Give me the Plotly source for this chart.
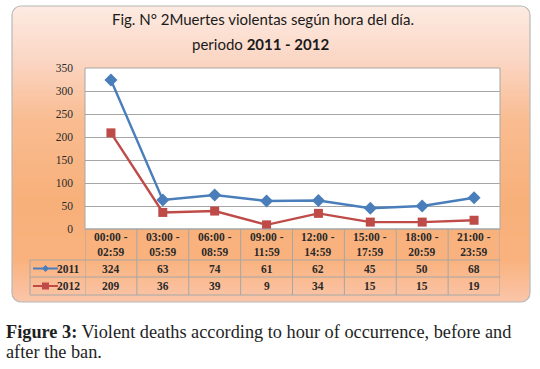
import plotly.graph_objects as go

# ---- data ----
periods = ["00:00 -<br>02:59", "03:00 -<br>05:59", "06:00 -<br>08:59", "09:00 -<br>11:59",
           "12:00 -<br>14:59", "15:00 -<br>17:59", "18:00 -<br>20:59", "21:00 -<br>23:59"]
deaths_2011 = [324, 63, 74, 61, 62, 45, 50, 68]
deaths_2012 = [209, 36, 39, 9, 34, 15, 15, 19]
series_names = ["2011", "2012"]
y_ticks = [0, 50, 100, 150, 200, 250, 300, 350]

W, H = 540, 369
def X(px): return px / W
def Y(py): return 1 - py / H

BLUE = "#4a7ebb"
RED = "#be4b48"
GRID = "#a6a6a6"
SERIF = "Liberation Serif"

fig = go.Figure()
fig.add_trace(go.Scatter(x=periods, y=deaths_2011, name=series_names[0], mode="lines+markers",
                         line=dict(color=BLUE, width=2.4),
                         marker=dict(symbol="diamond", size=10, color=BLUE)))
fig.add_trace(go.Scatter(x=periods, y=deaths_2012, name=series_names[1], mode="lines+markers",
                         line=dict(color=RED, width=2.4),
                         marker=dict(symbol="square", size=9, color=RED)))

shapes = []
# gradient background of the frame (vertical gradient)
stops = [(6, (253, 235, 226)), (60, (251, 214, 196)), (120, (249, 188, 145)),
         (200, (248, 176, 122)), (260, (249, 178, 126)), (302, (250, 198, 170))]
def col(py):
    for (a, ca), (b, cb) in zip(stops[:-1], stops[1:]):
        if a <= py <= b:
            t = (py - a) / (b - a)
            c = [round(ca[i] + (cb[i] - ca[i]) * t) for i in range(3)]
            return "rgb(%d,%d,%d)" % tuple(c)
    return "rgb(%d,%d,%d)" % stops[-1][1]
fx0, fy0, fx1, fy1, r = 12, 6, 530, 302, 9
step = 3
py = fy0
while py < fy1:
    p2 = min(py + step + 0.5, fy1)
    shapes.append(dict(type="rect", xref="paper", yref="paper", x0=X(fx0), x1=X(fx1),
                       y0=Y(p2), y1=Y(py), fillcolor=col(py + step / 2), line_width=0, layer="below"))
    py += step
# white corner patches
k = 0.448
def P(px, py): return "%f,%f" % (X(px), Y(py))
def corner(cx, cy, sx, sy):
    return ("M " + P(cx, cy) + " L " + P(cx + sx * r, cy) +
            " C " + P(cx + sx * r * k, cy) + " " + P(cx, cy + sy * r * k) + " " + P(cx, cy + sy * r) + " Z")
for cx, cy, sx, sy in [(fx0, fy0, 1, 1), (fx1, fy0, -1, 1), (fx0, fy1, 1, -1), (fx1, fy1, -1, -1)]:
    shapes.append(dict(type="path", xref="paper", yref="paper", path=corner(cx, cy, sx, sy),
                       fillcolor="white", line_width=0, layer="below"))
# rounded frame border
q = r * k
frame = ("M " + P(fx0 + r, fy0) + " L " + P(fx1 - r, fy0) +
         " C " + P(fx1 - q, fy0) + " " + P(fx1, fy0 + q) + " " + P(fx1, fy0 + r) +
         " L " + P(fx1, fy1 - r) +
         " C " + P(fx1, fy1 - q) + " " + P(fx1 - q, fy1) + " " + P(fx1 - r, fy1) +
         " L " + P(fx0 + r, fy1) +
         " C " + P(fx0 + q, fy1) + " " + P(fx0, fy1 - q) + " " + P(fx0, fy1 - r) +
         " L " + P(fx0, fy0 + r) +
         " C " + P(fx0, fy0 + q) + " " + P(fx0 + q, fy0) + " " + P(fx0 + r, fy0) + " Z")
shapes.append(dict(type="path", xref="paper", yref="paper", path=frame,
                   line=dict(color="#b8b8b8", width=1.2), fillcolor="rgba(0,0,0,0)", layer="below"))

# plot area
px0, px1, py0, py1 = 85, 500, 68, 229
shapes.append(dict(type="rect", xref="paper", yref="paper", x0=X(px0), x1=X(px1), y0=Y(py1), y1=Y(py0),
                   fillcolor="white", line=dict(color=GRID, width=1), layer="below"))

# data table grid
row_lines = [229, 260, 277, 295]
for i, ry in enumerate(row_lines):
    shapes.append(dict(type="line", xref="paper", yref="paper",
                       x0=X(px0 if i == 0 else 30), x1=X(px1), y0=Y(ry), y1=Y(ry),
                       line=dict(color=GRID, width=1), layer="above"))
shapes.append(dict(type="line", xref="paper", yref="paper", x0=X(30), x1=X(30), y0=Y(260), y1=Y(295),
                   line=dict(color=GRID, width=1), layer="above"))
for j in range(len(periods) + 1):
    shapes.append(dict(type="line", xref="x", yref="paper", x0=j - 0.5, x1=j - 0.5, y0=Y(229), y1=Y(295),
                       line=dict(color=GRID, width=1), layer="above"))

# legend keys in table
for ry, c, sym in [(268.5, BLUE, "diamond"), (286, RED, "square")]:
    shapes.append(dict(type="line", xref="paper", yref="paper", x0=X(33), x1=X(58), y0=Y(ry), y1=Y(ry),
                       line=dict(color=c, width=2), layer="above"))
    d = 3.5
    if sym == "diamond":
        path = "M " + P(45.5 - d, ry) + " L " + P(45.5, ry - d) + " L " + P(45.5 + d, ry) + " L " + P(45.5, ry + d) + " Z"
    else:
        path = "M " + P(45.5 - d, ry - d) + " L " + P(45.5 + d, ry - d) + " L " + P(45.5 + d, ry + d) + " L " + P(45.5 - d, ry + d) + " Z"
    shapes.append(dict(type="path", xref="paper", yref="paper", path=path, fillcolor=c, line_width=0, layer="above"))

annotations = []
tfont = dict(family=SERIF, size=11.5, color="#2a2a2a")
for j, lab in enumerate(periods):
    annotations.append(dict(xref="x", yref="paper", x=j, y=Y(244.5), text="<b>%s</b>" % lab.replace("<br>", "</b><br><b>"),
                            showarrow=False, font=tfont, xanchor="center", yanchor="middle"))
    annotations.append(dict(xref="x", yref="paper", x=j, y=Y(268.5), text="<b>%d</b>" % deaths_2011[j],
                            showarrow=False, font=tfont, xanchor="center", yanchor="middle"))
    annotations.append(dict(xref="x", yref="paper", x=j, y=Y(286), text="<b>%d</b>" % deaths_2012[j],
                            showarrow=False, font=tfont, xanchor="center", yanchor="middle"))
for name, ry in zip(series_names, [268.5, 286]):
    annotations.append(dict(xref="paper", yref="paper", x=X(82), y=Y(ry), text="<b>%s</b>" % name,
                            showarrow=False, font=tfont, xanchor="right", yanchor="middle"))

# title
title_font = dict(family="Lato", size=15, color="#1a1a1a")
annotations.append(dict(xref="paper", yref="paper", x=X(263), y=Y(19),
                        text="Fig. N° 2Muertes violentas según hora del día.", showarrow=False,
                        font=title_font, xanchor="center", yanchor="middle"))
annotations.append(dict(xref="paper", yref="paper", x=X(260), y=Y(44),
                        text="periodo <b>2011 - 2012</b>", showarrow=False,
                        font=title_font, xanchor="center", yanchor="middle"))
# caption
cap_font = dict(family=SERIF, size=18.3, color="#1e1e1e")
annotations.append(dict(xref="paper", yref="paper", x=X(4), y=Y(332),
                        text="<b>Figure 3:</b> Violent deaths according to hour of occurrence, before and",
                        showarrow=False, font=cap_font, xanchor="left", yanchor="middle"))
annotations.append(dict(xref="paper", yref="paper", x=X(4), y=Y(352),
                        text="after the ban.", showarrow=False, font=cap_font, xanchor="left", yanchor="middle"))

fig.update_layout(
    template="none",
    width=W, height=H, autosize=False,
    margin=dict(l=0, r=0, t=0, b=0, pad=0),
    paper_bgcolor="white", plot_bgcolor="rgba(0,0,0,0)",
    showlegend=False,
    shapes=shapes, annotations=annotations,
    xaxis=dict(type="category", domain=[X(px0), X(px1)], range=[-0.5, len(periods) - 0.5],
               automargin=False,
               showticklabels=False, showgrid=False, zeroline=False, showline=False, fixedrange=True),
    yaxis=dict(domain=[Y(py1), Y(py0)], range=[0, 350], tickvals=y_ticks, automargin=False,
               showgrid=True, gridcolor=GRID, gridwidth=1, zeroline=False, showline=False,
               ticks="", ticklabelstandoff=11,
               tickfont=dict(family=SERIF, size=11.5, color="#2a2a2a"), fixedrange=True),
)

fig.write_html("out.html", config={"displayModeBar": False},
               post_script="document.body.style.margin='0';document.body.style.overflow='hidden';")
